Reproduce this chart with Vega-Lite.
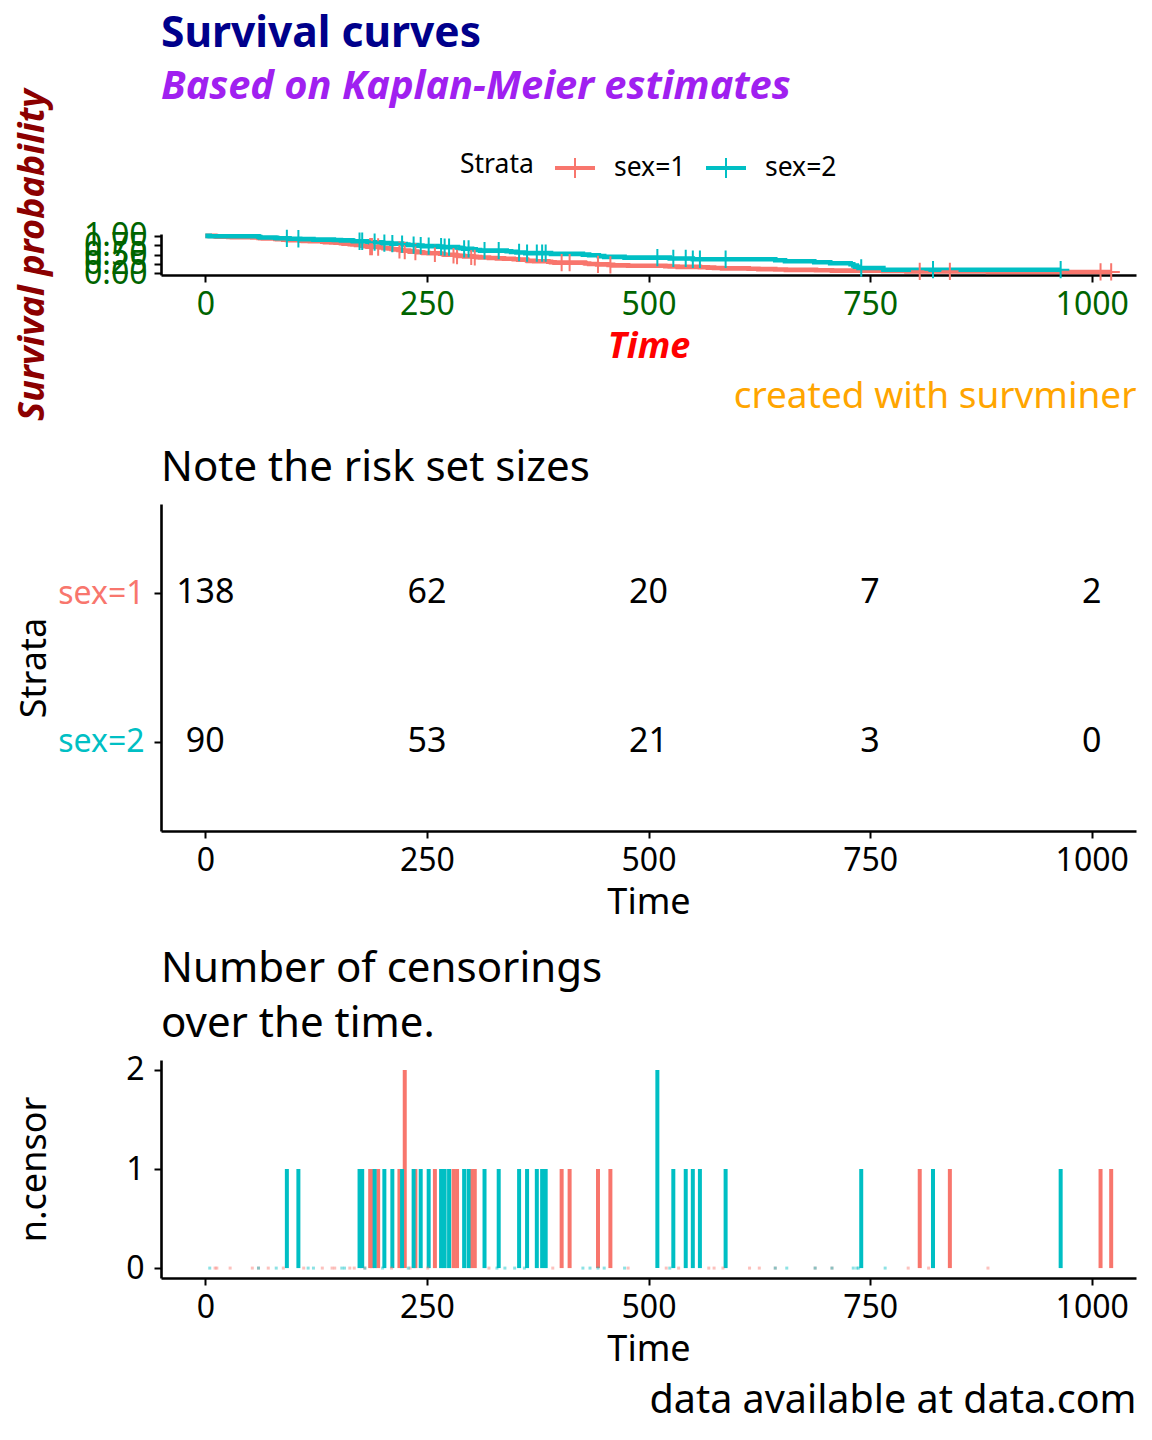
{
  "$schema": "https://vega.github.io/schema/vega-lite/v6.json",
  "padding": {"left": 14, "top": 13, "right": 5, "bottom": 5},
  "background": "white",
  "title": {
    "text": "Survival curves",
    "subtitle": "Based on Kaplan-Meier estimates",
    "anchor": "start",
    "frame": "group",
    "offset": -18,
    "font": "Noto Sans",
    "fontSize": 42.5,
    "fontWeight": "bold",
    "color": "#00008B",
    "subtitleFont": "Noto Sans",
    "subtitleFontSize": 39.8,
    "subtitleFontWeight": "bold",
    "subtitleFontStyle": "italic",
    "subtitleColor": "#A020F0",
    "subtitlePadding": 12
  },
  "bounds": "flush",
  "spacing": 229,
  "config": {
    "view": {"stroke": null},
    "font": "Noto Sans",
    "axis": {
      "grid": false,
      "domainColor": "black",
      "tickColor": "black",
      "domainWidth": 2.6,
      "tickWidth": 2,
      "tickSize": 7,
      "labelFont": "Noto Sans",
      "labelFontSize": 32,
      "labelColor": "black",
      "titleFont": "Noto Sans",
      "titleFontSize": 36,
      "titleFontWeight": "normal",
      "titleColor": "black",
      "labelFlush": false
    },
    "axisY": {"labelOverlap": false},
    "legend": {"layout": {"top": {"anchor": "middle"}}},
    "title": {"font": "Noto Sans"}
  },
  "vconcat": [
    {
      "width": 975,
      "height": 41,
      "layer": [
        {
          "data": {"values": [
            {"strata": "sex=1", "time": 0, "surv": 1}, {"strata": "sex=1", "time": 11, "surv": 0.993}, {"strata": "sex=1", "time": 12, "surv": 0.986}, {"strata": "sex=1", "time": 13, "surv": 0.978}, {"strata": "sex=1", "time": 26, "surv": 0.971}, {"strata": "sex=1", "time": 30, "surv": 0.964}, {"strata": "sex=1", "time": 53, "surv": 0.957}, {"strata": "sex=1", "time": 60, "surv": 0.942}, {"strata": "sex=1", "time": 62, "surv": 0.935}, {"strata": "sex=1", "time": 65, "surv": 0.928}, {"strata": "sex=1", "time": 79, "surv": 0.92}, {"strata": "sex=1", "time": 81, "surv": 0.913}, {"strata": "sex=1", "time": 88, "surv": 0.899}, {"strata": "sex=1", "time": 92, "surv": 0.891}, {"strata": "sex=1", "time": 95, "surv": 0.884}, {"strata": "sex=1", "time": 107, "surv": 0.87}, {"strata": "sex=1", "time": 110, "surv": 0.862}, {"strata": "sex=1", "time": 118, "surv": 0.855}, {"strata": "sex=1", "time": 132, "surv": 0.841}, {"strata": "sex=1", "time": 135, "surv": 0.833}, {"strata": "sex=1", "time": 142, "surv": 0.826}, {"strata": "sex=1", "time": 147, "surv": 0.819}, {"strata": "sex=1", "time": 153, "surv": 0.804}, {"strata": "sex=1", "time": 156, "surv": 0.79}, {"strata": "sex=1", "time": 163, "surv": 0.775}, {"strata": "sex=1", "time": 166, "surv": 0.768}, {"strata": "sex=1", "time": 170, "surv": 0.754}, {"strata": "sex=1", "time": 176, "surv": 0.739}, {"strata": "sex=1", "time": 180, "surv": 0.725}, {"strata": "sex=1", "time": 183, "surv": 0.71}, {"strata": "sex=1", "time": 189, "surv": 0.702}, {"strata": "sex=1", "time": 197, "surv": 0.686}, {"strata": "sex=1", "time": 201, "surv": 0.67}, {"strata": "sex=1", "time": 207, "surv": 0.662}, {"strata": "sex=1", "time": 210, "surv": 0.646}, {"strata": "sex=1", "time": 212, "surv": 0.638}, {"strata": "sex=1", "time": 218, "surv": 0.622}, {"strata": "sex=1", "time": 222, "surv": 0.605}, {"strata": "sex=1", "time": 230, "surv": 0.587}, {"strata": "sex=1", "time": 231, "surv": 0.578}, {"strata": "sex=1", "time": 239, "surv": 0.56}, {"strata": "sex=1", "time": 245, "surv": 0.551}, {"strata": "sex=1", "time": 246, "surv": 0.542}, {"strata": "sex=1", "time": 252, "surv": 0.532}, {"strata": "sex=1", "time": 265, "surv": 0.522}, {"strata": "sex=1", "time": 268, "surv": 0.512}, {"strata": "sex=1", "time": 269, "surv": 0.502}, {"strata": "sex=1", "time": 270, "surv": 0.492}, {"strata": "sex=1", "time": 283, "surv": 0.472}, {"strata": "sex=1", "time": 285, "surv": 0.462}, {"strata": "sex=1", "time": 292, "surv": 0.451}, {"strata": "sex=1", "time": 303, "surv": 0.44}, {"strata": "sex=1", "time": 306, "surv": 0.429}, {"strata": "sex=1", "time": 310, "surv": 0.418}, {"strata": "sex=1", "time": 320, "surv": 0.407}, {"strata": "sex=1", "time": 329, "surv": 0.396}, {"strata": "sex=1", "time": 337, "surv": 0.385}, {"strata": "sex=1", "time": 348, "surv": 0.374}, {"strata": "sex=1", "time": 353, "surv": 0.362}, {"strata": "sex=1", "time": 363, "surv": 0.34}, {"strata": "sex=1", "time": 364, "surv": 0.328}, {"strata": "sex=1", "time": 371, "surv": 0.317}, {"strata": "sex=1", "time": 387, "surv": 0.305}, {"strata": "sex=1", "time": 390, "surv": 0.294}, {"strata": "sex=1", "time": 394, "surv": 0.282}, {"strata": "sex=1", "time": 428, "surv": 0.27}, {"strata": "sex=1", "time": 429, "surv": 0.258}, {"strata": "sex=1", "time": 433, "surv": 0.246}, {"strata": "sex=1", "time": 442, "surv": 0.234}, {"strata": "sex=1", "time": 455, "surv": 0.222}, {"strata": "sex=1", "time": 460, "surv": 0.209}, {"strata": "sex=1", "time": 477, "surv": 0.197}, {"strata": "sex=1", "time": 519, "surv": 0.187}, {"strata": "sex=1", "time": 524, "surv": 0.177}, {"strata": "sex=1", "time": 533, "surv": 0.167}, {"strata": "sex=1", "time": 558, "surv": 0.157}, {"strata": "sex=1", "time": 567, "surv": 0.147}, {"strata": "sex=1", "time": 574, "surv": 0.137}, {"strata": "sex=1", "time": 583, "surv": 0.127}, {"strata": "sex=1", "time": 613, "surv": 0.117}, {"strata": "sex=1", "time": 624, "surv": 0.107}, {"strata": "sex=1", "time": 643, "surv": 0.097}, {"strata": "sex=1", "time": 655, "surv": 0.087}, {"strata": "sex=1", "time": 689, "surv": 0.077}, {"strata": "sex=1", "time": 707, "surv": 0.067}, {"strata": "sex=1", "time": 765, "surv": 0.057}, {"strata": "sex=1", "time": 791, "surv": 0.048}, {"strata": "sex=1", "time": 883, "surv": 0.032}, {"strata": "sex=1", "time": 1022, "surv": 0.032},
            {"strata": "sex=2", "time": 0, "surv": 1}, {"strata": "sex=2", "time": 5, "surv": 0.989}, {"strata": "sex=2", "time": 60, "surv": 0.978}, {"strata": "sex=2", "time": 61, "surv": 0.967}, {"strata": "sex=2", "time": 62, "surv": 0.956}, {"strata": "sex=2", "time": 79, "surv": 0.945}, {"strata": "sex=2", "time": 81, "surv": 0.934}, {"strata": "sex=2", "time": 95, "surv": 0.923}, {"strata": "sex=2", "time": 107, "surv": 0.912}, {"strata": "sex=2", "time": 122, "surv": 0.9}, {"strata": "sex=2", "time": 145, "surv": 0.889}, {"strata": "sex=2", "time": 153, "surv": 0.878}, {"strata": "sex=2", "time": 166, "surv": 0.866}, {"strata": "sex=2", "time": 167, "surv": 0.855}, {"strata": "sex=2", "time": 183, "surv": 0.842}, {"strata": "sex=2", "time": 186, "surv": 0.83}, {"strata": "sex=2", "time": 199, "surv": 0.817}, {"strata": "sex=2", "time": 201, "surv": 0.805}, {"strata": "sex=2", "time": 210, "surv": 0.792}, {"strata": "sex=2", "time": 222, "surv": 0.779}, {"strata": "sex=2", "time": 226, "surv": 0.766}, {"strata": "sex=2", "time": 229, "surv": 0.753}, {"strata": "sex=2", "time": 239, "surv": 0.739}, {"strata": "sex=2", "time": 245, "surv": 0.726}, {"strata": "sex=2", "time": 262, "surv": 0.712}, {"strata": "sex=2", "time": 268, "surv": 0.698}, {"strata": "sex=2", "time": 285, "surv": 0.683}, {"strata": "sex=2", "time": 288, "surv": 0.668}, {"strata": "sex=2", "time": 291, "surv": 0.653}, {"strata": "sex=2", "time": 301, "surv": 0.637}, {"strata": "sex=2", "time": 305, "surv": 0.621}, {"strata": "sex=2", "time": 310, "surv": 0.605}, {"strata": "sex=2", "time": 340, "surv": 0.588}, {"strata": "sex=2", "time": 345, "surv": 0.571}, {"strata": "sex=2", "time": 351, "surv": 0.554}, {"strata": "sex=2", "time": 361, "surv": 0.537}, {"strata": "sex=2", "time": 390, "surv": 0.518}, {"strata": "sex=2", "time": 426, "surv": 0.498}, {"strata": "sex=2", "time": 433, "surv": 0.478}, {"strata": "sex=2", "time": 444, "surv": 0.457}, {"strata": "sex=2", "time": 450, "surv": 0.436}, {"strata": "sex=2", "time": 473, "surv": 0.415}, {"strata": "sex=2", "time": 524, "surv": 0.394}, {"strata": "sex=2", "time": 550, "surv": 0.372}, {"strata": "sex=2", "time": 643, "surv": 0.347}, {"strata": "sex=2", "time": 654, "surv": 0.32}, {"strata": "sex=2", "time": 687, "surv": 0.293}, {"strata": "sex=2", "time": 705, "surv": 0.266}, {"strata": "sex=2", "time": 728, "surv": 0.239}, {"strata": "sex=2", "time": 731, "surv": 0.206}, {"strata": "sex=2", "time": 735, "surv": 0.172}, {"strata": "sex=2", "time": 737, "surv": 0.138}, {"strata": "sex=2", "time": 765, "surv": 0.092}, {"strata": "sex=2", "time": 965, "surv": 0.092}
          ]},
          "mark": {"type": "line", "interpolate": "step-after", "strokeWidth": 4.6},
          "encoding": {
            "x": {"field": "time", "type": "quantitative",
              "scale": {"domain": [-50, 1050], "nice": false, "zero": false},
              "axis": {"values": [0, 250, 500, 750, 1000], "format": "d", "labelColor": "#006400", "labelPadding": 7,
                "title": "Time", "titleColor": "red", "titleFontWeight": "bold", "titleFontStyle": "italic", "titlePadding": 9}},
            "y": {"field": "surv", "type": "quantitative",
              "scale": {"domain": [-0.05, 1.05], "nice": false, "zero": false},
              "axis": {"values": [0, 0.25, 0.5, 0.75, 1], "format": ".2f", "labelColor": "#006400", "labelOverlap": false, "labelPadding": 7,
                "title": "Survival probability", "titleColor": "#8B0000", "titleFontWeight": "bold", "titleFontStyle": "italic", "titlePadding": 32}},
            "color": {"field": "strata", "type": "nominal",
              "scale": {"domain": ["sex=1", "sex=2"], "range": ["#F8766D", "#00BFC4"]},
              "legend": {"orient": "top", "direction": "horizontal", "title": "Strata", "titleOrient": "left",
                "titleFontSize": 26.5, "titleFontWeight": "normal", "titleColor": "black",
                "labelFontSize": 26.5, "labelColor": "black",
                "symbolType": "M-1,-0.05H1M-1,0.05H1M0,-0.5V0.5", "symbolSize": 1600, "symbolStrokeWidth": 2,
                "labelOffset": 18, "columnPadding": 16, "titlePadding": 20, "offset": -94}}
          }
        },
        {
          "data": {"values": [
            {"strata": "sex=1", "time": 186, "surv": 0.71}, {"strata": "sex=1", "time": 188, "surv": 0.71}, {"strata": "sex=1", "time": 195, "surv": 0.702}, {"strata": "sex=1", "time": 219, "surv": 0.622}, {"strata": "sex=1", "time": 225, "surv": 0.605}, {"strata": "sex=1", "time": 237, "surv": 0.578}, {"strata": "sex=1", "time": 259, "surv": 0.532}, {"strata": "sex=1", "time": 280, "surv": 0.492}, {"strata": "sex=1", "time": 284, "surv": 0.472}, {"strata": "sex=1", "time": 300, "surv": 0.451}, {"strata": "sex=1", "time": 304, "surv": 0.44}, {"strata": "sex=1", "time": 402, "surv": 0.282}, {"strata": "sex=1", "time": 411, "surv": 0.282}, {"strata": "sex=1", "time": 443, "surv": 0.234}, {"strata": "sex=1", "time": 457, "surv": 0.222}, {"strata": "sex=1", "time": 806, "surv": 0.048}, {"strata": "sex=1", "time": 840, "surv": 0.048}, {"strata": "sex=1", "time": 1010, "surv": 0.032}, {"strata": "sex=1", "time": 1022, "surv": 0.032},
            {"strata": "sex=2", "time": 92, "surv": 0.934}, {"strata": "sex=2", "time": 105, "surv": 0.923}, {"strata": "sex=2", "time": 174, "surv": 0.855}, {"strata": "sex=2", "time": 177, "surv": 0.855}, {"strata": "sex=2", "time": 191, "surv": 0.83}, {"strata": "sex=2", "time": 202, "surv": 0.805}, {"strata": "sex=2", "time": 211, "surv": 0.792}, {"strata": "sex=2", "time": 222, "surv": 0.779}, {"strata": "sex=2", "time": 235, "surv": 0.753}, {"strata": "sex=2", "time": 243, "surv": 0.739}, {"strata": "sex=2", "time": 252, "surv": 0.726}, {"strata": "sex=2", "time": 266, "surv": 0.712}, {"strata": "sex=2", "time": 270, "surv": 0.698}, {"strata": "sex=2", "time": 275, "surv": 0.698}, {"strata": "sex=2", "time": 292, "surv": 0.653}, {"strata": "sex=2", "time": 297, "surv": 0.653}, {"strata": "sex=2", "time": 315, "surv": 0.605}, {"strata": "sex=2", "time": 331, "surv": 0.605}, {"strata": "sex=2", "time": 354, "surv": 0.554}, {"strata": "sex=2", "time": 363, "surv": 0.537}, {"strata": "sex=2", "time": 374, "surv": 0.537}, {"strata": "sex=2", "time": 380, "surv": 0.537}, {"strata": "sex=2", "time": 384, "surv": 0.537}, {"strata": "sex=2", "time": 510, "surv": 0.415}, {"strata": "sex=2", "time": 528, "surv": 0.394}, {"strata": "sex=2", "time": 542, "surv": 0.394}, {"strata": "sex=2", "time": 550, "surv": 0.372}, {"strata": "sex=2", "time": 558, "surv": 0.372}, {"strata": "sex=2", "time": 587, "surv": 0.372}, {"strata": "sex=2", "time": 740, "surv": 0.138}, {"strata": "sex=2", "time": 821, "surv": 0.092}, {"strata": "sex=2", "time": 965, "surv": 0.092}
          ]},
          "mark": {"type": "point", "shape": "M-1,0H1M0,-1V1", "size": 300, "strokeWidth": 2, "filled": false, "opacity": 1},
          "encoding": {
            "x": {"field": "time", "type": "quantitative",
              "scale": {"domain": [-50, 1050], "nice": false, "zero": false},
              "axis": {"orient": "bottom", "domain": false, "ticks": false, "labels": false,
                "title": "created with survminer", "titleAnchor": "end", "titleColor": "#FFA500", "titleFontSize": 37, "titlePadding": 103}},
            "y": {"field": "surv", "type": "quantitative",
              "axis": {"values": [0, 0.25, 0.5, 0.75, 1], "format": ".2f", "labelColor": "#006400", "labelOverlap": false, "labelPadding": 7,
                "title": "Survival probability", "titleColor": "#8B0000", "titleFontWeight": "bold", "titleFontStyle": "italic", "titlePadding": 32}},
            "color": {"field": "strata", "type": "nominal"}
          }
        }
      ],
      "resolve": {"scale": {"x": "independent"}, "axis": {"x": "independent"}}
    },
    {
      "width": 975,
      "height": 327,
      "title": {"text": "Note the risk set sizes", "anchor": "start", "frame": "group", "fontSize": 42, "fontWeight": "normal", "color": "black", "offset": 14},
      "data": {"values": [
        {"strata": "sex=1", "time": 0, "n": 138}, {"strata": "sex=1", "time": 250, "n": 62}, {"strata": "sex=1", "time": 500, "n": 20}, {"strata": "sex=1", "time": 750, "n": 7}, {"strata": "sex=1", "time": 1000, "n": 2},
        {"strata": "sex=2", "time": 0, "n": 90}, {"strata": "sex=2", "time": 250, "n": 53}, {"strata": "sex=2", "time": 500, "n": 21}, {"strata": "sex=2", "time": 750, "n": 3}, {"strata": "sex=2", "time": 1000, "n": 0}
      ]},
      "mark": {"type": "text", "fontSize": 34, "color": "black", "font": "Noto Sans"},
      "encoding": {
        "x": {"field": "time", "type": "quantitative",
          "scale": {"domain": [-50, 1050], "nice": false, "zero": false},
          "axis": {"values": [0, 250, 500, 750, 1000], "format": "d", "labelPadding": 7, "title": "Time", "titlePadding": 9}},
        "y": {"field": "strata", "type": "nominal",
          "scale": {"type": "point", "domain": ["sex=1", "sex=2"], "padding": 0.6},
          "axis": {"title": "Strata", "labelPadding": 10, "titlePadding": 4,
            "labelColor": {"condition": {"test": "datum.value === 'sex=1'", "value": "#F8766D"}, "value": "#00BFC4"}}},
        "text": {"field": "n", "type": "quantitative"}
      }
    },
    {
      "width": 975,
      "height": 218,
      "title": {"text": ["Number of censorings", "over the time."], "anchor": "start", "frame": "group", "fontSize": 42, "fontWeight": "normal", "color": "black", "offset": 8, "lineHeight": 55},
      "layer": [
        {
          "data": {"values": [
            {"strata": "sex=1", "time": 186, "n": 1}, {"strata": "sex=1", "time": 188, "n": 1}, {"strata": "sex=1", "time": 195, "n": 1}, {"strata": "sex=1", "time": 219, "n": 1}, {"strata": "sex=1", "time": 225, "n": 2}, {"strata": "sex=1", "time": 237, "n": 1}, {"strata": "sex=1", "time": 259, "n": 1}, {"strata": "sex=1", "time": 280, "n": 1}, {"strata": "sex=1", "time": 284, "n": 1}, {"strata": "sex=1", "time": 300, "n": 1}, {"strata": "sex=1", "time": 304, "n": 1}, {"strata": "sex=1", "time": 402, "n": 1}, {"strata": "sex=1", "time": 411, "n": 1}, {"strata": "sex=1", "time": 443, "n": 1}, {"strata": "sex=1", "time": 457, "n": 1}, {"strata": "sex=1", "time": 806, "n": 1}, {"strata": "sex=1", "time": 840, "n": 1}, {"strata": "sex=1", "time": 1010, "n": 1}, {"strata": "sex=1", "time": 1022, "n": 1},
            {"strata": "sex=2", "time": 92, "n": 1}, {"strata": "sex=2", "time": 105, "n": 1}, {"strata": "sex=2", "time": 174, "n": 1}, {"strata": "sex=2", "time": 177, "n": 1}, {"strata": "sex=2", "time": 191, "n": 1}, {"strata": "sex=2", "time": 202, "n": 1}, {"strata": "sex=2", "time": 211, "n": 1}, {"strata": "sex=2", "time": 222, "n": 1}, {"strata": "sex=2", "time": 235, "n": 1}, {"strata": "sex=2", "time": 243, "n": 1}, {"strata": "sex=2", "time": 252, "n": 1}, {"strata": "sex=2", "time": 266, "n": 1}, {"strata": "sex=2", "time": 270, "n": 1}, {"strata": "sex=2", "time": 275, "n": 1}, {"strata": "sex=2", "time": 292, "n": 1}, {"strata": "sex=2", "time": 297, "n": 1}, {"strata": "sex=2", "time": 315, "n": 1}, {"strata": "sex=2", "time": 331, "n": 1}, {"strata": "sex=2", "time": 354, "n": 1}, {"strata": "sex=2", "time": 363, "n": 1}, {"strata": "sex=2", "time": 374, "n": 1}, {"strata": "sex=2", "time": 380, "n": 1}, {"strata": "sex=2", "time": 384, "n": 1}, {"strata": "sex=2", "time": 510, "n": 2}, {"strata": "sex=2", "time": 528, "n": 1}, {"strata": "sex=2", "time": 542, "n": 1}, {"strata": "sex=2", "time": 550, "n": 1}, {"strata": "sex=2", "time": 558, "n": 1}, {"strata": "sex=2", "time": 587, "n": 1}, {"strata": "sex=2", "time": 740, "n": 1}, {"strata": "sex=2", "time": 821, "n": 1}, {"strata": "sex=2", "time": 965, "n": 1}
          ]},
          "mark": {"type": "rule", "strokeWidth": 4},
          "encoding": {
            "x": {"field": "time", "type": "quantitative",
              "scale": {"domain": [-50, 1050], "nice": false, "zero": false},
              "axis": {"values": [0, 250, 500, 750, 1000], "format": "d", "labelPadding": 7, "title": "Time", "titlePadding": 9}},
            "y": {"field": "n", "type": "quantitative",
              "scale": {"domain": [-0.1, 2.1], "nice": false, "zero": false},
              "axis": {"values": [0, 1, 2], "format": "d", "title": "n.censor", "labelPadding": 10, "titlePadding": 72}},
            "y2": {"datum": 0},
            "color": {"field": "strata", "type": "nominal",
              "scale": {"domain": ["sex=1", "sex=2"], "range": ["#F8766D", "#00BFC4"]}, "legend": null}
          }
        },
        {
          "data": {"values": [
            {"strata": "sex=1", "time": 11, "n": 0}, {"strata": "sex=1", "time": 13, "n": 0}, {"strata": "sex=1", "time": 28, "n": 0}, {"strata": "sex=1", "time": 53, "n": 0}, {"strata": "sex=1", "time": 60, "n": 0}, {"strata": "sex=1", "time": 71, "n": 0}, {"strata": "sex=1", "time": 88, "n": 0}, {"strata": "sex=1", "time": 111, "n": 0}, {"strata": "sex=1", "time": 132, "n": 0}, {"strata": "sex=1", "time": 143, "n": 0}, {"strata": "sex=1", "time": 146, "n": 0}, {"strata": "sex=1", "time": 163, "n": 0}, {"strata": "sex=1", "time": 168, "n": 0}, {"strata": "sex=1", "time": 180, "n": 0}, {"strata": "sex=1", "time": 210, "n": 0}, {"strata": "sex=1", "time": 231, "n": 0}, {"strata": "sex=1", "time": 251, "n": 0}, {"strata": "sex=1", "time": 320, "n": 0}, {"strata": "sex=1", "time": 392, "n": 0}, {"strata": "sex=1", "time": 477, "n": 0}, {"strata": "sex=1", "time": 520, "n": 0}, {"strata": "sex=1", "time": 534, "n": 0}, {"strata": "sex=1", "time": 568, "n": 0}, {"strata": "sex=1", "time": 574, "n": 0}, {"strata": "sex=1", "time": 584, "n": 0}, {"strata": "sex=1", "time": 614, "n": 0}, {"strata": "sex=1", "time": 625, "n": 0}, {"strata": "sex=1", "time": 643, "n": 0}, {"strata": "sex=1", "time": 688, "n": 0}, {"strata": "sex=1", "time": 707, "n": 0}, {"strata": "sex=1", "time": 793, "n": 0}, {"strata": "sex=1", "time": 816, "n": 0}, {"strata": "sex=1", "time": 883, "n": 0},
            {"strata": "sex=2", "time": 5, "n": 0}, {"strata": "sex=2", "time": 60, "n": 0}, {"strata": "sex=2", "time": 80, "n": 0}, {"strata": "sex=2", "time": 116, "n": 0}, {"strata": "sex=2", "time": 122, "n": 0}, {"strata": "sex=2", "time": 154, "n": 0}, {"strata": "sex=2", "time": 157, "n": 0}, {"strata": "sex=2", "time": 180, "n": 0}, {"strata": "sex=2", "time": 200, "n": 0}, {"strata": "sex=2", "time": 229, "n": 0}, {"strata": "sex=2", "time": 329, "n": 0}, {"strata": "sex=2", "time": 338, "n": 0}, {"strata": "sex=2", "time": 349, "n": 0}, {"strata": "sex=2", "time": 360, "n": 0}, {"strata": "sex=2", "time": 426, "n": 0}, {"strata": "sex=2", "time": 434, "n": 0}, {"strata": "sex=2", "time": 443, "n": 0}, {"strata": "sex=2", "time": 450, "n": 0}, {"strata": "sex=2", "time": 473, "n": 0}, {"strata": "sex=2", "time": 524, "n": 0}, {"strata": "sex=2", "time": 643, "n": 0}, {"strata": "sex=2", "time": 656, "n": 0}, {"strata": "sex=2", "time": 688, "n": 0}, {"strata": "sex=2", "time": 707, "n": 0}, {"strata": "sex=2", "time": 731, "n": 0}, {"strata": "sex=2", "time": 735, "n": 0}, {"strata": "sex=2", "time": 737, "n": 0}, {"strata": "sex=2", "time": 767, "n": 0}
          ]},
          "mark": {"type": "tick", "orient": "vertical", "size": 3, "thickness": 3, "opacity": 0.45},
          "encoding": {
            "x": {"field": "time", "type": "quantitative",
              "scale": {"domain": [-50, 1050], "nice": false, "zero": false},
              "axis": {"orient": "bottom", "domain": false, "ticks": false, "labels": false,
                "title": "data available at data.com", "titleAnchor": "end", "titleColor": "black", "titleFontSize": 39.5, "titlePadding": 103}},
            "y": {"field": "n", "type": "quantitative"},
            "color": {"field": "strata", "type": "nominal", "legend": null}
          }
        }
      ],
      "resolve": {"scale": {"x": "independent"}, "axis": {"x": "independent"}}
    }
  ]
}
